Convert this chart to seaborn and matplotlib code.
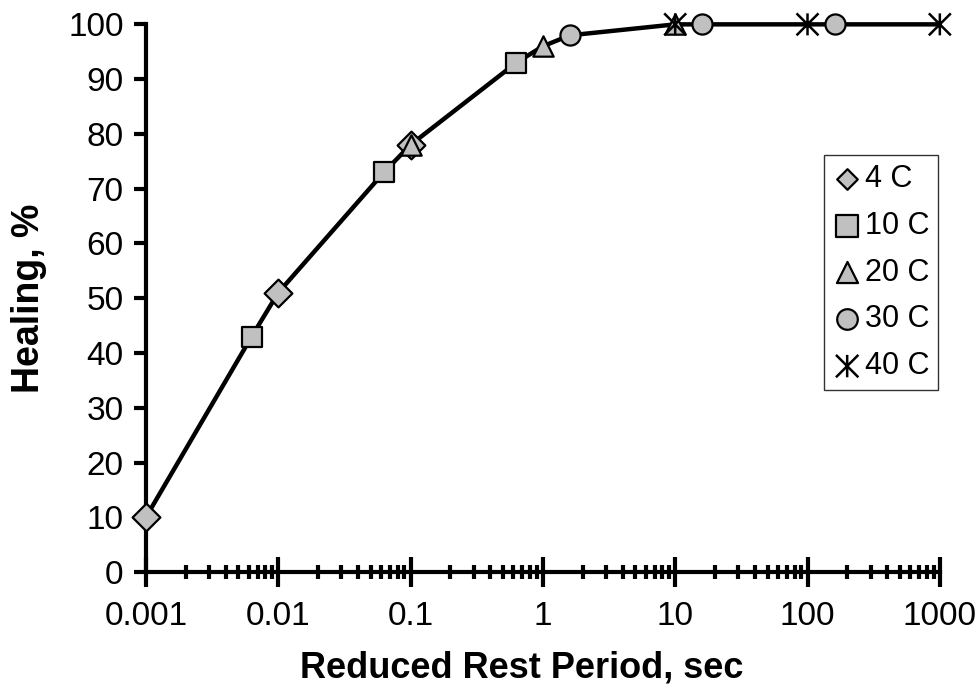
import matplotlib

matplotlib.use("Agg")
import matplotlib.pyplot as plt
import numpy as np
import pandas as pd
import seaborn as sns
from matplotlib.path import Path

# data
temps = ["4 C", "10 C", "20 C", "30 C", "40 C"]
rest_4 = [0.001, 0.01, 0.1]
heal_4 = [10, 51, 78]
rest_10 = [0.0063, 0.063, 0.63]
heal_10 = [43, 73, 93]
rest_20 = [0.1, 1.0, 10.0]
heal_20 = [78, 96, 100]
rest_30 = [1.6, 16, 160]
heal_30 = [98, 100, 100]
rest_40 = [10, 100, 1000]
heal_40 = [100, 100, 100]
y_ticks = list(range(0, 101, 10))
x_ticks = [0.001, 0.01, 0.1, 1, 10, 100, 1000]
x_ticklabels = ["0.001", "0.01", "0.1", "1", "10", "100", "1000"]

df = pd.concat(
    [
        pd.DataFrame({"rest": r, "healing": h, "temp": t})
        for r, h, t in zip(
            [rest_4, rest_10, rest_20, rest_30, rest_40],
            [heal_4, heal_10, heal_20, heal_30, heal_40],
            temps,
        )
    ],
    ignore_index=True,
)

sns.set_style("ticks")
plt.rcParams["font.family"] = ["Liberation Sans", "DejaVu Sans"]
for k in ["text.color", "axes.labelcolor", "xtick.color", "ytick.color"]:
    plt.rcParams[k] = "black"

FILL = "#C0C0C0"
star = Path(
    [(-1, -1), (1, 1), (-1, 1), (1, -1), (0, -1), (0, 1)],
    [Path.MOVETO, Path.LINETO, Path.MOVETO, Path.LINETO, Path.MOVETO, Path.LINETO],
)
markers = {"4 C": "D", "10 C": "s", "20 C": "^", "30 C": "o", "40 C": star}
sizes = {"4 C": 200, "10 C": 222, "20 C": 215, "30 C": 210, "40 C": 250}
legend_sizes = [110, 230, 230, 220, 260]

fig = plt.figure(figsize=(9.79, 6.96), dpi=100)
ax = fig.add_axes([0.149, 0.178, 0.811, 0.787])

line_df = df.sort_values("rest", kind="stable")
sns.lineplot(data=line_df, x="rest", y="healing", estimator=None, sort=False,
             color="black", lw=3.2, ax=ax, zorder=2, clip_on=False)

for t in temps:
    sub = df[df["temp"] == t]
    if t == "40 C":
        sns.scatterplot(data=sub, x="rest", y="healing", marker=markers[t], s=sizes[t],
                        facecolor="none", edgecolor="black", linewidth=1.8, ax=ax,
                        label=t, zorder=3, clip_on=False)
    else:
        sns.scatterplot(data=sub, x="rest", y="healing", marker=markers[t], s=sizes[t],
                        color=FILL, edgecolor="black", linewidth=1.6, ax=ax, label=t,
                        zorder=3, clip_on=False)

ax.set_xscale("log")
ax.set_xlim(0.001, 1000)
ax.set_ylim(0, 100)
ax.set_xticks(x_ticks)
ax.set_xticklabels(x_ticklabels)
ax.set_yticks(y_ticks)
ax.tick_params(axis="y", which="major", direction="out", length=9, width=3, labelsize=24, pad=7)
ax.tick_params(axis="x", which="major", direction="inout", length=22, width=3, labelsize=24, pad=10)
ax.tick_params(axis="x", which="minor", direction="inout", length=10, width=3)
for side in ["left", "bottom"]:
    ax.spines[side].set_linewidth(3)
    ax.spines[side].set_color("black")
sns.despine(ax=ax)

ax.set_xlabel("Reduced Rest Period, sec", fontsize=26, fontweight="bold")
ax.set_ylabel("Healing, %", fontsize=27, fontweight="bold")
ax.xaxis.set_label_coords(0.4735, -0.143)
ax.yaxis.set_label_coords(-0.124, 0.5)

leg = ax.legend(loc="upper right", bbox_to_anchor=(0.998, 0.762), fontsize=22,
                frameon=True, fancybox=False, borderaxespad=0, handletextpad=0.12,
                handlelength=0.9, labelspacing=0.55, borderpad=0.3)
leg.get_frame().set_edgecolor("black")
leg.get_frame().set_linewidth(1.0)
for h, s in zip(leg.legend_handles, legend_sizes):
    h.set_sizes([s])

fig.savefig("out.png", dpi=100, facecolor="white")
